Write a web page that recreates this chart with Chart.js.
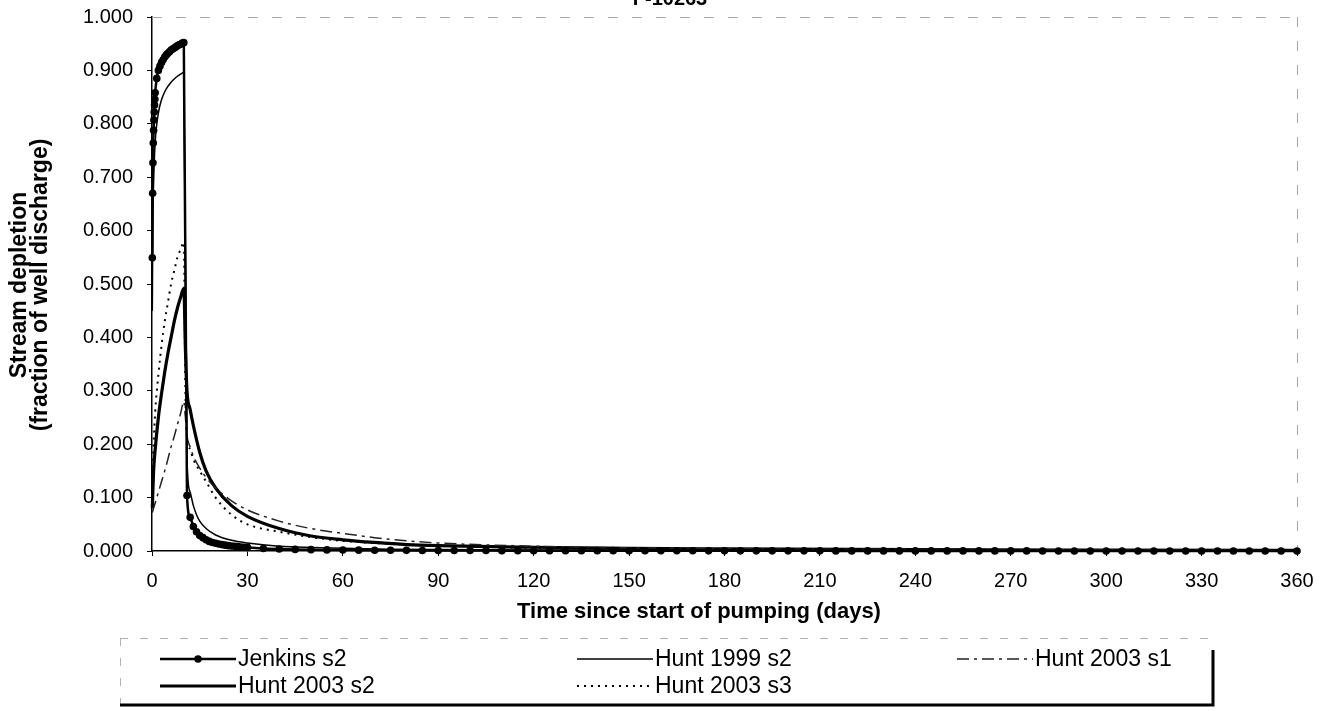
<!DOCTYPE html>
<html>
<head>
<meta charset="utf-8">
<script src="https://cdn.jsdelivr.net/npm/chart.js@4"></script>
<style>
  html, body { margin: 0; padding: 0; background: #fff; }
  canvas { display: block; }
</style>
</head>
<body>
<canvas id="chart" width="1327" height="711"></canvas>
<script>
// Jenkins s2 (markers on every point)
const jenkinsDays = [0.1, 0.2, 0.3, 0.4, 0.5, 0.6, 0.7, 0.8, 0.9, 1, 1.5, 2, 2.5, 3, 3.5, 4, 4.5, 5, 5.5, 6, 6.5, 7, 7.5, 8, 8.5, 9, 9.5, 10,
  11, 12, 13, 14, 15, 16, 17, 18, 19, 20, 21, 22, 23, 24, 25, 26, 27, 28, 29, 30,
  35, 40, 45, 50, 55, 60, 65, 70, 75, 80, 85, 90, 95, 100, 105, 110, 115, 120, 125, 130, 135, 140, 145, 150,
  155, 160, 165, 170, 175, 180, 185, 190, 195, 200, 205, 210, 215, 220, 225, 230, 235, 240, 245, 250,
  255, 260, 265, 270, 275, 280, 285, 290, 295, 300, 305, 310, 315, 320, 325, 330, 335, 340, 345, 350, 355, 360];
const jenkinsS2 = [0.549, 0.670, 0.727, 0.764, 0.788, 0.807, 0.822, 0.835, 0.846, 0.858, 0.885, 0.900, 0.908, 0.915, 0.920, 0.925, 0.929, 0.932, 0.935, 0.938, 0.940, 0.942, 0.944, 0.946, 0.948, 0.949, 0.951, 0.952,
  0.104, 0.063, 0.046, 0.036, 0.029, 0.025, 0.021, 0.018, 0.016, 0.0145, 0.013, 0.012, 0.011, 0.010, 0.0093, 0.0087, 0.0081, 0.0076, 0.0071, 0.0067,
  0.0047, 0.0037, 0.0030, 0.0025, 0.0021, 0.0018, 0.0016, 0.0014, 0.0013, 0.0012, 0.0010, 0.0010, 0.0009, 0.0008, 0.0008, 0.0007, 0.0007, 0.0006, 0.0006, 0.0006, 0.0005, 0.0005, 0.0005, 0.0004,
  0.0004, 0.0004, 0.0004, 0.0004, 0.0003, 0.0003, 0.0003, 0.0003, 0.0003, 0.0003, 0.0003, 0.0003, 0.0002, 0.0002, 0.0002, 0.0002, 0.0002, 0.0002, 0.0002, 0.0002,
  0.0002, 0.0002, 0.0002, 0.0002, 0.0002, 0.0001, 0.0001, 0.0001, 0.0001, 0.0001, 0.0001, 0.0001, 0.0001, 0.0001, 0.0001, 0.0001, 0.0001, 0.0001, 0.0001, 0.0001, 0.0001, 0.0001];

// Hunt 1999 s2
const hunt1999Days = [0.1, 0.25, 0.5, 1, 2, 3, 4, 5, 6, 7, 8, 9, 10, 11, 12, 13, 14, 15, 17, 20, 25, 30, 40, 50, 60, 75, 90, 120, 150, 180, 240, 300, 360];
const hunt1999S2 = [0.45, 0.60, 0.69, 0.765, 0.82, 0.845, 0.86, 0.87, 0.878, 0.884, 0.889, 0.893, 0.896, 0.17, 0.11, 0.085, 0.068, 0.056, 0.042, 0.030, 0.020, 0.015, 0.009, 0.0065, 0.005, 0.0035, 0.0028, 0.002, 0.0015, 0.0012, 0.0009, 0.0007, 0.0006];

// Hunt 2003 s1 / s2 / s3 share one time list
const hunt2003Days = [0.1, 0.5, 1, 2, 3, 4, 5, 6, 7, 8, 9, 10, 10.5, 11, 12, 13, 15, 17, 20, 25, 30, 40, 50, 60, 70, 80, 90, 120, 150, 180, 240, 300, 360];
const hunt2003S1 = [0.072, 0.080, 0.090, 0.110, 0.130, 0.150, 0.172, 0.195, 0.215, 0.237, 0.258, 0.280, 0.250, 0.215, 0.195, 0.178, 0.155, 0.138, 0.118, 0.094, 0.077, 0.056, 0.042, 0.033, 0.025, 0.019, 0.015, 0.009, 0.006, 0.0045, 0.003, 0.002, 0.0015];
const hunt2003S2 = [0.080, 0.150, 0.190, 0.250, 0.295, 0.335, 0.370, 0.400, 0.430, 0.455, 0.475, 0.492, 0.380, 0.300, 0.265, 0.235, 0.185, 0.150, 0.118, 0.085, 0.065, 0.042, 0.028, 0.021, 0.016, 0.012, 0.010, 0.007, 0.005, 0.004, 0.0025, 0.0018, 0.0013];
const hunt2003S3 = [0.130, 0.200, 0.260, 0.330, 0.385, 0.430, 0.465, 0.500, 0.525, 0.550, 0.565, 0.578, 0.300, 0.215, 0.190, 0.172, 0.150, 0.130, 0.100, 0.068, 0.050, 0.036, 0.026, 0.019, 0.015, 0.012, 0.010, 0.006, 0.004, 0.003, 0.002, 0.0015, 0.001];

const seriesNames = ['Jenkins s2', 'Hunt 1999 s2', 'Hunt 2003 s1', 'Hunt 2003 s2', 'Hunt 2003 s3'];
const chartTitle = 'F-10263';
const xTitle = 'Time since start of pumping (days)';
const yTitle = ['Stream depletion', '(fraction of well discharge)'];

const FONT = "'Liberation Sans', Arial, sans-serif";

function pts(days, vals) {
  return days.map((d, i) => ({ x: d, y: vals[i] }));
}

// dashed grey frame on top/right of plot, titles (chart title clipped at the very top)
const framePlugin = {
  id: 'frame',
  beforeDatasetsDraw(chart) {
    const { ctx, chartArea: a } = chart;
    ctx.save();
    ctx.strokeStyle = '#a8a8a8';
    ctx.lineWidth = 1;
    ctx.setLineDash([10, 14]);
    ctx.beginPath();
    ctx.moveTo(a.left, a.top + 0.5);
    ctx.lineTo(a.right, a.top + 0.5);
    ctx.moveTo(a.right + 0.5, a.top);
    ctx.lineTo(a.right + 0.5, a.bottom);
    ctx.stroke();
    ctx.restore();
  },
  afterDraw(chart) {
    const ctx = chart.ctx;
    ctx.save();
    ctx.fillStyle = '#000';
    ctx.textAlign = 'center';
    ctx.textBaseline = 'middle';
    ctx.font = 'bold 20px ' + FONT;
    ctx.fillText(chartTitle, 670, -1);
    ctx.font = 'bold 22px ' + FONT;
    ctx.fillText(xTitle, 699, 612);
    ctx.translate(0, 285);
    ctx.rotate(-Math.PI / 2);
    ctx.font = 'bold 23px ' + FONT;
    ctx.fillText(yTitle[0], 0, 20);
    ctx.fillText(yTitle[1], 0, 41);
    ctx.restore();
  }
};

// legend box below the axis, drawn from the datasets
const legendPlugin = {
  id: 'boxLegend',
  afterDraw(chart) {
    const ctx = chart.ctx;
    const box = { l: 120, t: 638, r: 1213, b: 705 };
    ctx.save();
    ctx.strokeStyle = '#b0b0b0';
    ctx.lineWidth = 1;
    ctx.setLineDash([8, 12]);
    ctx.beginPath();
    ctx.moveTo(box.l, box.t + 0.5);
    ctx.lineTo(box.r, box.t + 0.5);
    ctx.moveTo(box.l + 0.5, box.t);
    ctx.lineTo(box.l + 0.5, box.b);
    ctx.stroke();
    ctx.setLineDash([]);
    ctx.strokeStyle = '#000';
    ctx.lineWidth = 3;
    ctx.beginPath();
    ctx.moveTo(box.r, box.t + 12);
    ctx.lineTo(box.r, box.b);
    ctx.lineTo(box.l, box.b);
    ctx.stroke();

    const cols = [160, 577, 957];
    const rows = [659, 686];
    const sampleLen = 76;
    ctx.font = '23px ' + FONT;
    ctx.textBaseline = 'middle';
    ctx.fillStyle = '#000';
    chart.data.datasets.forEach((ds, i) => {
      const x = cols[i % 3];
      const y = rows[Math.floor(i / 3)];
      ctx.strokeStyle = ds.borderColor;
      ctx.lineWidth = ds.borderWidth;
      ctx.setLineDash(ds.borderDash || []);
      ctx.beginPath();
      ctx.moveTo(x, y);
      ctx.lineTo(x + sampleLen, y);
      ctx.stroke();
      ctx.setLineDash([]);
      if (ds.pointRadius > 0) {
        ctx.beginPath();
        ctx.arc(x + sampleLen / 2, y, ds.pointRadius, 0, Math.PI * 2);
        ctx.fillStyle = ds.pointBackgroundColor;
        ctx.fill();
      }
      ctx.fillStyle = '#000';
      ctx.fillText(ds.label, x + sampleLen + 2, y + 1);
    });
    ctx.restore();
  }
};

new Chart(document.getElementById('chart'), {
  type: 'line',
  data: {
    datasets: [
      {
        label: seriesNames[0], data: pts(jenkinsDays, jenkinsS2),
        borderColor: '#000', borderWidth: 2.5, pointRadius: 3.8,
        pointBackgroundColor: '#000', pointBorderColor: '#000', pointBorderWidth: 0
      },
      {
        label: seriesNames[1], data: pts(hunt1999Days, hunt1999S2),
        borderColor: '#000', borderWidth: 1.5, pointRadius: 0
      },
      {
        label: seriesNames[2], data: pts(hunt2003Days, hunt2003S1),
        borderColor: '#222', borderWidth: 1.5, borderDash: [12, 5, 3, 5], pointRadius: 0
      },
      {
        label: seriesNames[3], data: pts(hunt2003Days, hunt2003S2),
        borderColor: '#000', borderWidth: 3.2, pointRadius: 0
      },
      {
        label: seriesNames[4], data: pts(hunt2003Days, hunt2003S3),
        borderColor: '#000', borderWidth: 2, borderDash: [2, 5], pointRadius: 0
      }
    ]
  },
  options: {
    responsive: false,
    animation: false,
    events: [],
    clip: false,
    layout: { padding: { left: 0, top: 17, right: 30, bottom: 85 } },
    plugins: { legend: { display: false }, tooltip: { enabled: false }, title: { display: false } },
    elements: { line: { tension: 0.25, cubicInterpolationMode: 'monotone' } },
    scales: {
      x: {
        type: 'linear', min: 0, max: 360,
        ticks: { stepSize: 30, color: '#000', font: { family: FONT, size: 20 }, padding: 13, maxRotation: 0 },
        grid: { drawOnChartArea: false, drawTicks: true, tickLength: 5, color: '#000' },
        border: { color: '#000', width: 1.5, dash: [14, 9] },
        afterFit(scale) { scale.height = 75; scale.paddingLeft = 0; scale.paddingRight = 0; }
      },
      y: {
        min: 0, max: 1,
        ticks: { stepSize: 0.1, color: '#000', font: { family: FONT, size: 20 }, padding: 14,
          callback: v => v.toFixed(3) },
        grid: { drawOnChartArea: false, drawTicks: true, tickLength: 5, color: '#000' },
        border: { color: '#000', width: 1.5 },
        afterFit(scale) { scale.width = 152; scale.paddingTop = 0; scale.paddingBottom = 0; }
      }
    }
  },
  plugins: [framePlugin, legendPlugin]
});
</script>
</body>
</html>
